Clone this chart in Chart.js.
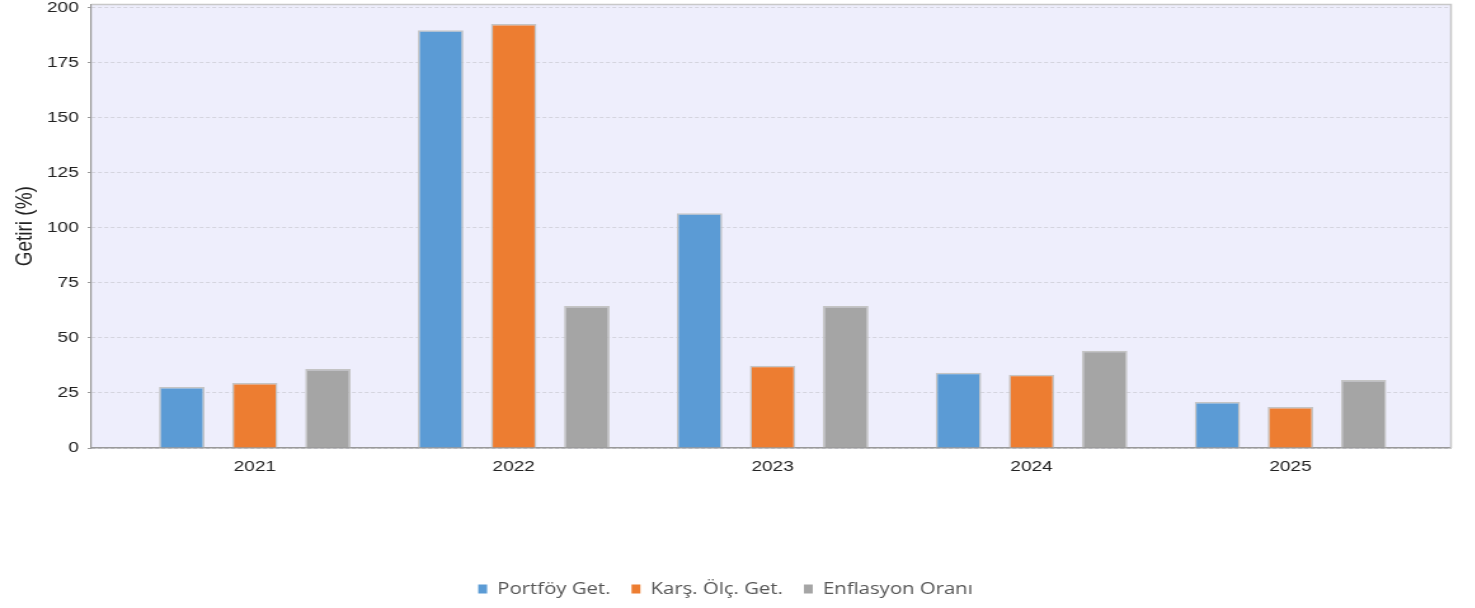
<!DOCTYPE html>
<html>
<head>
<meta charset="utf-8">
<script src="https://cdn.jsdelivr.net/npm/chart.js@4/dist/chart.umd.min.js"></script>
<style>
    html, body { margin: 0; padding: 0; background: #fff; overflow: hidden; }
    #chart { display: block; transform-origin: 0 0; }
</style>
</head>
<body>
<canvas id="chart" height="608"></canvas>
<script>
'use strict';
// yearly returns (%)
var categories = ['2021', '2022', '2023', '2024', '2025'];
var portfoyGet = [27.7, 189.6, 106.5, 34.1, 20.9];
var karsOlcGet = [29.5, 192.4, 37.3, 33.2, 18.6];
var enflasyonOrani = [35.9, 64.5, 64.5, 44.1, 30.9];
var yTicks = [0, 25, 50, 75, 100, 125, 150, 175, 200];
var seriesNames = ['Portföy Get.', 'Karş. Ölç. Get.', 'Enflasyon Oranı'];
var seriesColors = ['#5B9BD5', '#ED7D31', '#A5A5A5'];

(function () {
    // the reference image is stretched sideways, so draw narrow and scale up
    var stretch = 1.27;
    var canvas = document.getElementById('chart');
    canvas.width = Math.round(1475 / stretch);
    canvas.style.transform = 'scaleX(' + stretch + ')';

    var tickFont = { family: "'Liberation Sans', Arial, sans-serif", size: 15 };

    var plotFrame = {
        id: 'plotFrame',
        beforeDraw: function (chart) {
            var a = chart.chartArea, ctx = chart.ctx;
            ctx.save();
            ctx.fillStyle = '#EEEEFC';
            ctx.fillRect(a.left, a.top, a.right - a.left, a.bottom - a.top);
            ctx.restore();
        },
        afterDraw: function (chart) {
            var a = chart.chartArea, ctx = chart.ctx;
            ctx.save();
            ctx.strokeStyle = '#c8c8c8';
            ctx.lineWidth = 1.5;
            ctx.beginPath();
            ctx.moveTo(a.left, a.top);
            ctx.lineTo(a.right, a.top);
            ctx.lineTo(a.right, a.bottom);
            ctx.stroke();
            ctx.restore();
        }
    };

    function makeSet(i, values) {
        return {
            label: seriesNames[i],
            data: values,
            backgroundColor: seriesColors[i],
            borderColor: '#c4c4c4',
            borderWidth: 1.5,
            categoryPercentage: 0.847,
            barPercentage: 0.622
        };
    }

    new Chart(canvas.getContext('2d'), {
        type: 'bar',
        data: {
            labels: categories,
            datasets: [
                makeSet(0, portfoyGet),
                makeSet(1, karsOlcGet),
                makeSet(2, enflasyonOrani)
            ]
        },
        plugins: [plotFrame],
        options: {
            responsive: false,
            animation: false,
            layout: { padding: { top: 4.5, right: 18.5, bottom: 1, left: 0 } },
            plugins: {
                tooltip: { enabled: false },
                legend: {
                    position: 'bottom',
                    labels: {
                        boxWidth: 7,
                        boxHeight: 9,
                        padding: 16.5,
                        color: '#555',
                        font: { family: "'Open Sans', sans-serif", size: 16 },
                        generateLabels: function (chart) {
                            var items = Chart.defaults.plugins.legend.labels.generateLabels(chart);
                            items.forEach(function (it) {
                                it.lineWidth = 0;
                                it.strokeStyle = it.fillStyle;
                            });
                            return items;
                        }
                    }
                }
            },
            scales: {
                x: {
                    type: 'linear',
                    offset: false,
                    min: 2020.369,
                    max: 2025.62,
                    grid: { display: false, drawTicks: false },
                    border: { display: true, color: '#999', width: 1.5 },
                    ticks: {
                        padding: 10,
                        color: '#222',
                        font: tickFont,
                        callback: function (v) { return String(v); }
                    },
                    afterBuildTicks: function (s) {
                        s.ticks = categories.map(function (c) { return { value: +c }; });
                    },
                    afterFit: function (s) {
                        s.height = 116.5;
                        s.paddingLeft = 0;
                        s.paddingRight = 0;
                    }
                },
                y: {
                    min: 0,
                    max: 201.3,
                    border: { color: '#999', width: 1.2, dash: [3, 2] },
                    grid: {
                        color: '#d4d4de',
                        tickColor: '#999',
                        tickLength: 3,
                        tickWidth: 1.2
                    },
                    ticks: { padding: 7, color: '#222', font: tickFont },
                    title: {
                        display: true,
                        text: 'Getiri (%)',
                        color: '#222',
                        font: { family: "'Liberation Sans', Arial, sans-serif", size: 19 },
                        padding: { top: 8, bottom: 0 }
                    },
                    afterBuildTicks: function (s) {
                        s.ticks = yTicks.map(function (v) { return { value: v }; });
                    },
                    afterFit: function (s) {
                        s.width = 72;
                        s.paddingTop = 0;
                        s.paddingBottom = 0;
                    }
                }
            }
        }
    });
})();
</script>
</body>
</html>
